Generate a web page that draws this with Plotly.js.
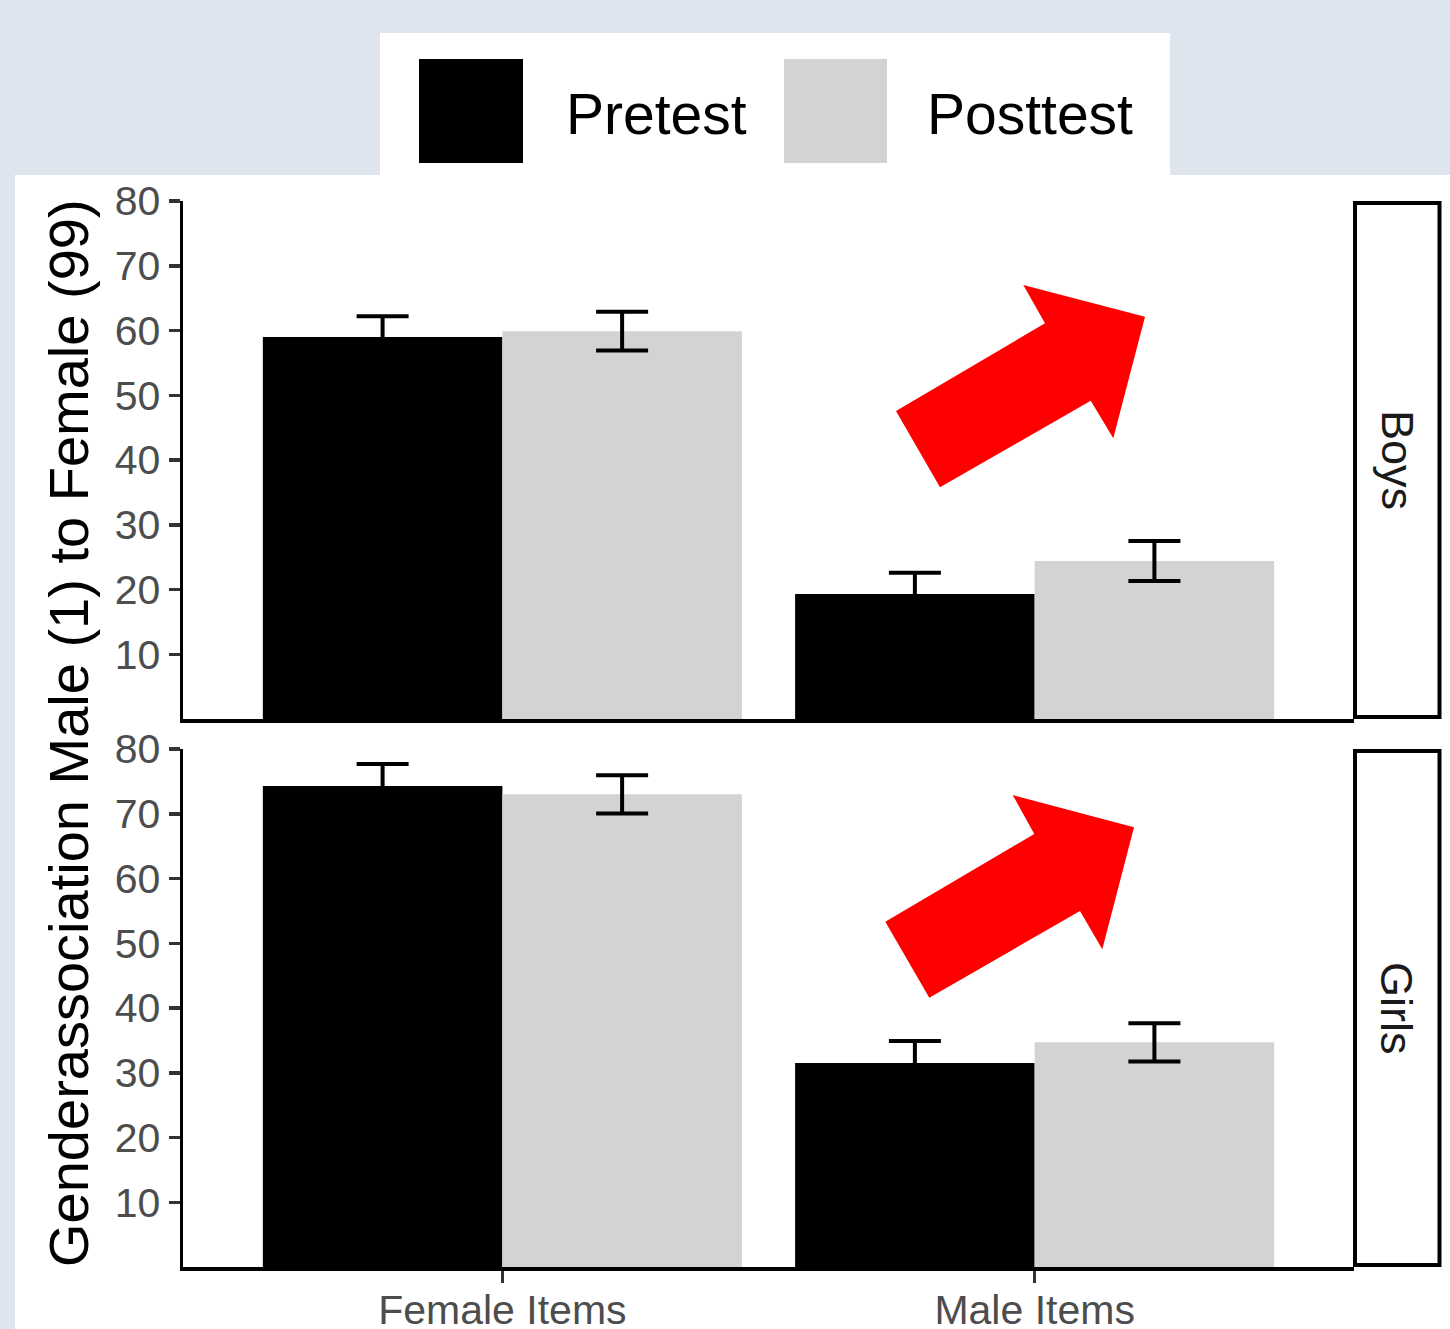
<!DOCTYPE html>
<html>
<head>
<meta charset="utf-8">
<script src="https://cdn.plot.ly/plotly-3.0.1.min.js"></script>
<style>html,body{margin:0;padding:0;background:#dee5ef;}#chart{width:1450px;height:1329px;}</style>
</head>
<body>
<div id="chart"></div>
<script>
// ---- data ----
const categories = ["Female Items", "Male Items"];
const seriesNames = ["Pretest", "Posttest"];
const boysPretest = [59.0, 19.3];
const boysPretestSE = [3.2, 3.3];
const boysPosttest = [59.9, 24.4];
const boysPosttestSE = [3.0, 3.1];
const girlsPretest = [74.3, 31.5];
const girlsPretestSE = [3.4, 3.4];
const girlsPosttest = [73.0, 34.7];
const girlsPosttestSE = [2.95, 2.95];
const yTicks = [10, 20, 30, 40, 50, 60, 70, 80];
const panelLabels = ["Boys", "Girls"];
const yTitle = "Genderassociation Male (1) to Female (99)";

// ---- layout geometry (pixels) ----
const L = 183, R = 1354, T = 201, B = 1267;
const W = R - L, PH = B - T;
const px = x => (x - L) / W;
const py = y => (B - y) / PH;
const colors = ["#000000", "#d3d3d3"];
const FONT = "Liberation Sans, Arial, Helvetica, sans-serif";

function bar(name, y, se, color, xa, ya) {
  return {
    type: "bar", name: name, x: categories, y: y,
    xaxis: xa, yaxis: ya,
    marker: {color: color, line: {width: 0}},
    error_y: {type: "data", array: se, visible: true, color: "#000000", thickness: 4, width: 26},
    showlegend: false, hoverinfo: "x+y"
  };
}

const data = [
  bar(seriesNames[0], boysPretest, boysPretestSE, colors[0], "x2", "y2"),
  bar(seriesNames[1], boysPosttest, boysPosttestSE, colors[1], "x2", "y2"),
  bar(seriesNames[0], girlsPretest, girlsPretestSE, colors[0], "x", "y"),
  bar(seriesNames[1], girlsPosttest, girlsPosttestSE, colors[1], "x", "y")
];

const axisCommon = {
  showline: true, linecolor: "#000000", linewidth: 3.5,
  showgrid: false, zeroline: false, fixedrange: true,
  ticks: "outside", ticklen: 11, tickwidth: 3.5, tickcolor: "#333333"
};

function arrowPath(pts) {
  return "M " + pts.map(p => px(p[0]).toFixed(5) + "," + py(p[1]).toFixed(5)).join(" L ") + " Z";
}
const arrowTop = [[896,411],[940,487.3],[1090.7,400.7],[1113.3,438.3],[1145,316.7],[1023.3,285],[1045,323.3]];
const arrowBot = [[885.3,921.7],[929.3,997.7],[1080,911],[1102.3,949.3],[1134,827.3],[1012.7,795],[1034.3,834]];

const shapes = [
  {type:"rect", xref:"paper", yref:"paper", x0:px(15), x1:px(1460), y0:py(1340), y1:py(175), fillcolor:"#ffffff", line:{width:0}, layer:"below"},
  {type:"rect", xref:"paper", yref:"paper", x0:px(380), x1:px(1170), y0:py(175), y1:py(33), fillcolor:"#ffffff", line:{width:0}, layer:"below"},
  {type:"rect", xref:"paper", yref:"paper", x0:px(419), x1:px(523), y0:py(163), y1:py(59), fillcolor:colors[0], line:{width:0}},
  {type:"rect", xref:"paper", yref:"paper", x0:px(784), x1:px(887), y0:py(163), y1:py(59), fillcolor:colors[1], line:{width:0}},
  {type:"rect", xref:"paper", yref:"paper", x0:px(1355), x1:px(1439.5), y0:py(717), y1:py(203), fillcolor:"#ffffff", line:{color:"#000000", width:4}},
  {type:"rect", xref:"paper", yref:"paper", x0:px(1355), x1:px(1439.5), y0:py(1265), y1:py(751), fillcolor:"#ffffff", line:{color:"#000000", width:4}},
  {type:"path", xref:"paper", yref:"paper", path:arrowPath(arrowTop), fillcolor:"#ff0000", line:{width:0}},
  {type:"path", xref:"paper", yref:"paper", path:arrowPath(arrowBot), fillcolor:"#ff0000", line:{width:0}}
];

const annotations = [
  {xref:"paper", yref:"paper", x:px(68), y:py(733), text:yTitle, textangle:-90, showarrow:false,
   xanchor:"center", yanchor:"middle", font:{family:FONT, size:56, color:"#000000"}},
  {xref:"paper", yref:"paper", x:px(1397), y:py(460), text:panelLabels[0], textangle:90, showarrow:false,
   xanchor:"center", yanchor:"middle", font:{family:FONT, size:45, color:"#1a1a1a"}},
  {xref:"paper", yref:"paper", x:px(1397), y:py(1008), text:panelLabels[1], textangle:90, showarrow:false,
   xanchor:"center", yanchor:"middle", font:{family:FONT, size:45, color:"#1a1a1a"}},
  {xref:"paper", yref:"paper", x:px(564), y:py(114), text:seriesNames[0], showarrow:false,
   xanchor:"left", yanchor:"middle", font:{family:FONT, size:57, color:"#000000"}},
  {xref:"paper", yref:"paper", x:px(925), y:py(114), text:seriesNames[1], showarrow:false,
   xanchor:"left", yanchor:"middle", font:{family:FONT, size:57, color:"#000000"}}
];

const layout = {
  width: 1450, height: 1329,
  margin: {l: L, r: 1450 - R, t: T, b: 1329 - B, pad: 0},
  paper_bgcolor: "#dee5ef",
  plot_bgcolor: "rgba(0,0,0,0)",
  font: {family: FONT},
  barmode: "group", bargap: 0.1, bargroupgap: 0,
  showlegend: false,
  xaxis: Object.assign({}, axisCommon, {
    domain: [0, 1], anchor: "y", type: "category", range: [-0.6, 1.6],
    ticklen: 12, ticklabelstandoff: -8,
    tickfont: {family: FONT, size: 41, color: "#4d4d4d"}
  }),
  xaxis2: Object.assign({}, axisCommon, {
    domain: [0, 1], anchor: "y2", type: "category", range: [-0.6, 1.6], matches: "x",
    ticks: "", showticklabels: false
  }),
  yaxis: Object.assign({}, axisCommon, {
    domain: [0, (B - 749) / PH], anchor: "x", range: [0, 80],
    tickmode: "array", tickvals: yTicks, ticktext: yTicks.map(String),
    tickfont: {family: FONT, size: 41, color: "#4d4d4d"}
  }),
  yaxis2: Object.assign({}, axisCommon, {
    domain: [(B - 719) / PH, 1], anchor: "x2", range: [0, 80],
    tickmode: "array", tickvals: yTicks, ticktext: yTicks.map(String),
    tickfont: {family: FONT, size: 41, color: "#4d4d4d"}
  }),
  shapes: shapes,
  annotations: annotations
};

Plotly.newPlot("chart", data, layout, {displayModeBar: false, staticPlot: true});
</script>
</body>
</html>
